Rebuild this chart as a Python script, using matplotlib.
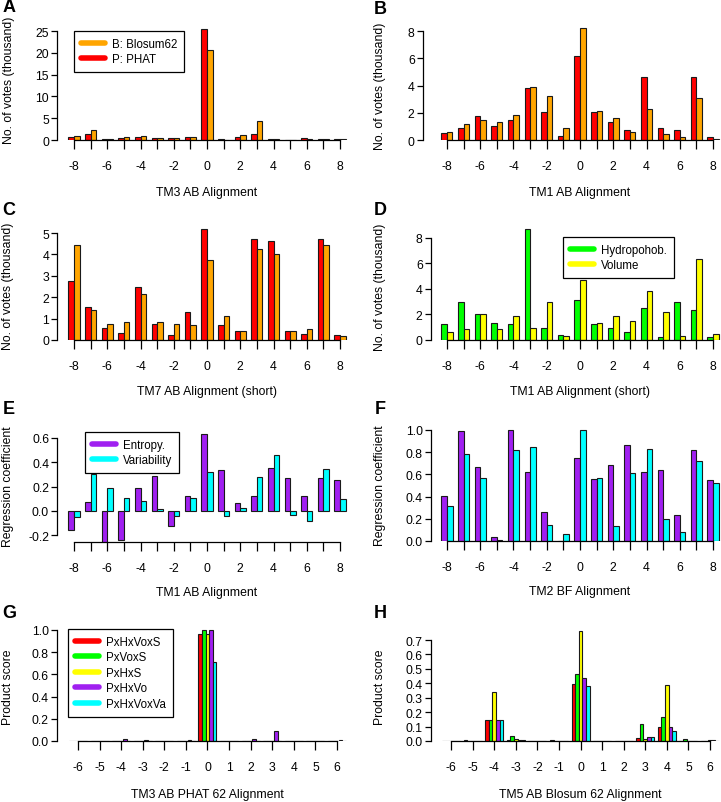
import matplotlib
matplotlib.use('Agg')
import matplotlib.pyplot as plt
from matplotlib.lines import Line2D

plt.rcParams['font.family'] = ['Liberation Sans', 'DejaVu Sans']

W, H = 721, 803

# positions of the alignment shifts
shifts17 = list(range(-8, 9))
shifts13 = list(range(-6, 7))

# A: TM3 AB alignment, votes in thousand
a_phat = [0.7, 1.4, 0.15, 0.4, 0.6, 0.5, 0.4, 0.6, 25.5, 0.15, 0.8, 1.3, 0.2, 0.1, 0.5, 0.25, 0.2]
a_blosum = [0.9, 2.3, 0.15, 0.7, 0.9, 0.4, 0.5, 0.6, 20.7, 0.1, 1.2, 4.3, 0.15, 0.1, 0.3, 0.2, 0.2]

# B: TM1 AB alignment
b_phat = [0.55, 0.85, 1.75, 1.05, 1.5, 3.8, 2.05, 0.3, 6.15, 2.05, 1.3, 0.75, 4.6, 0.85, 0.7, 4.6, 0.2]
b_blosum = [0.6, 1.15, 1.45, 1.3, 1.85, 3.9, 3.25, 0.9, 8.2, 2.1, 1.6, 0.6, 2.3, 0.45, 0.25, 3.05, 0.05]

# C: TM7 AB alignment (short)
c_phat = [2.75, 1.55, 0.55, 0.35, 2.5, 0.75, 0.25, 1.3, 5.2, 0.7, 0.42, 4.72, 4.65, 0.42, 0.27, 4.72, 0.22]
c_blosum = [4.45, 1.4, 0.75, 0.85, 2.15, 0.82, 0.75, 0.72, 3.75, 1.1, 0.4, 4.25, 4.0, 0.43, 0.5, 4.42, 0.17]

# D: TM1 AB alignment (short)
d_hydro = [1.25, 2.95, 2.05, 1.3, 1.22, 8.73, 0.92, 0.4, 3.1, 1.22, 0.92, 0.6, 2.5, 0.25, 2.98, 2.35, 0.27]
d_volume = [0.6, 0.85, 2.0, 0.9, 1.88, 0.95, 3.0, 0.3, 4.7, 1.33, 1.85, 1.5, 3.87, 2.17, 0.3, 6.38, 0.45]

# E: TM1 AB alignment, regression coefficients
e_entropy = [-0.16, 0.07, -0.3, -0.235, 0.19, 0.29, -0.12, 0.12, 0.635, 0.337, 0.063, 0.12, 0.356, 0.271, 0.12, 0.268, 0.258]
e_variab = [-0.05, 0.30, 0.19, 0.11, 0.08, 0.02, -0.045, 0.105, 0.323, -0.038, 0.027, 0.282, 0.46, -0.03, -0.082, 0.342, 0.10]

# F: TM2 BF alignment
f_entropy = [0.405, 0.99, 0.67, 0.036, 1.0, 0.622, 0.264, 0.003, 0.748, 0.562, 0.688, 0.865, 0.619, 0.637, 0.234, 0.82, 0.553]
f_variab = [0.318, 0.784, 0.565, 0.006, 0.817, 0.847, 0.144, 0.066, 1.0, 0.565, 0.135, 0.613, 0.832, 0.2, 0.081, 0.72, 0.525]

# G: TM3 AB PHAT 62 alignment, product scores
g_pxhxvoxs = [0.002, 0.002, 0.003, 0.002, 0.002, 0.003, 0.96, 0.001, 0.002, 0.002, 0.002, 0.001, 0.002]
g_pxvoxs = [0.002, 0.002, 0.003, 0.002, 0.002, 0.003, 1.0, 0.001, 0.002, 0.002, 0.002, 0.001, 0.002]
g_pxhxs = [0.002, 0.002, 0.003, 0.002, 0.002, 0.003, 0.96, 0.001, 0.002, 0.002, 0.002, 0.001, 0.002]
g_pxhxvo = [0.002, 0.002, 0.02, 0.008, 0.003, 0.01, 1.0, 0.002, 0.018, 0.088, 0.003, 0.002, 0.006]
g_pxhxvoxva = [0.002, 0.002, 0.003, 0.002, 0.002, 0.003, 0.71, 0.001, 0.002, 0.002, 0.002, 0.001, 0.003]

# H: TM5 AB Blosum 62 alignment
h_pxhxvoxs = [0.002, 0.004, 0.145, 0.005, 0.002, 0.004, 0.395, 0.002, 0.002, 0.018, 0.098, 0.003, 0.002]
h_pxvoxs = [0.002, 0.003, 0.145, 0.033, 0.002, 0.003, 0.463, 0.002, 0.002, 0.115, 0.163, 0.015, 0.003]
h_pxhxs = [0.002, 0.003, 0.337, 0.012, 0.002, 0.003, 0.763, 0.002, 0.002, 0.012, 0.39, 0.003, 0.005]
h_pxhxvo = [0.002, 0.003, 0.145, 0.006, 0.002, 0.003, 0.435, 0.002, 0.002, 0.028, 0.10, 0.003, 0.004]
h_pxhxvoxva = [0.002, 0.003, 0.145, 0.004, 0.002, 0.002, 0.378, 0.002, 0.002, 0.028, 0.07, 0.003, 0.003]

RED, ORANGE = '#ff0000', '#ffa500'
GREEN, YELLOW = '#00ff00', '#ffff00'
PURPLE, CYAN = '#a020f0', '#00ffff'
FS = 8.8


def make_axes(fig, left, bottom, width, height):
    # rectangle given in pixels, bottom counted from the top of the figure
    return fig.add_axes([left / W, 1 - bottom / H, width / W, height / H])


def draw_bars(ax, pos, series, colors):
    n = len(series)
    w = 1.0 / (n + 1)
    for i, (vals, col) in enumerate(zip(series, colors)):
        xs = [p + (i - (n - 1) / 2) * w for p in pos]
        ax.bar(xs, vals, width=w, color=col, edgecolor='#1a1a1a', linewidth=0.8, zorder=2)


def style_axes(ax, pos, xlim, ylim, yticks, ylabels, label_every=2):
    ax.set_xlim(*xlim)
    ax.set_ylim(*ylim)
    for s in ['top', 'right']:
        ax.spines[s].set_visible(False)
    ax.spines['left'].set_bounds(yticks[0], yticks[-1])
    ax.spines['bottom'].set_bounds(pos[0], pos[-1])
    ax.spines['left'].set_linewidth(0.9)
    ax.spines['bottom'].set_linewidth(0.9)
    ax.set_yticks(yticks)
    ax.set_yticklabels(ylabels, fontsize=FS)
    ax.set_xticks(pos)
    ax.set_xticklabels([str(p) if p % label_every == 0 else '' for p in pos], fontsize=FS)
    ax.tick_params(axis='y', length=4.5, width=0.9, pad=1.5)
    ax.tick_params(axis='x', length=6.5, width=0.9, pad=8)
    ax.patch.set_alpha(0)


def add_legend(fig, ax, labels, colors, x, y):
    handles = [Line2D([0], [0], color=c, lw=4, solid_capstyle='round') for c in colors]
    leg = ax.legend(handles, labels, loc='upper left', bbox_to_anchor=(x / W, 1 - y / H),
                    bbox_transform=fig.transFigure, borderaxespad=0, fontsize=8.3,
                    frameon=True, fancybox=False, edgecolor='black', framealpha=1,
                    handlelength=2.1, handletextpad=0.6, labelspacing=0.3,
                    borderpad=0.6)
    leg.get_frame().set_linewidth(0.9)


fig = plt.figure(figsize=(W / 100, H / 100), dpi=100)

# panel A
ax = make_axes(fig, 57.4, 141, 299.25, 115.5)
draw_bars(ax, shifts17, [a_phat, a_blosum], [RED, ORANGE])
style_axes(ax, shifts17, (-9, 9), (0, 26.5), [0, 5, 10, 15, 20, 25], ['0', '5', '10', '15', '20', '25'])
add_legend(fig, ax, ['B: Blosum62', 'P: PHAT'], [ORANGE, RED], 74, 32)

# panel B
ax = make_axes(fig, 423, 141, 298, 115.8)
draw_bars(ax, shifts17, [b_phat, b_blosum], [RED, ORANGE])
style_axes(ax, shifts17, (-9.44, 8.48), (0, 8.5), [0, 2, 4, 6, 8], ['0', '2', '4', '6', '8'])

# panel C
ax = make_axes(fig, 57.4, 341, 299.25, 113.4)
draw_bars(ax, shifts17, [c_phat, c_blosum], [RED, ORANGE])
style_axes(ax, shifts17, (-9, 9), (0, 5.3), [0, 1, 2, 3, 4, 5], ['0', '1', '2', '3', '4', '5'])

# panel D
ax = make_axes(fig, 431, 341, 290, 113.5)
draw_bars(ax, shifts17, [d_hydro, d_volume], [GREEN, YELLOW])
style_axes(ax, shifts17, (-8.96, 8.48), (0, 8.9), [0, 2, 4, 6, 8], ['0', '2', '4', '6', '8'])
add_legend(fig, ax, ['Hydropohob.', 'Volume'], [GREEN, YELLOW], 563, 238)

# panel E
ax = make_axes(fig, 57.4, 543, 299.25, 112.6)
draw_bars(ax, shifts17, [e_entropy, e_variab], [PURPLE, CYAN])
style_axes(ax, shifts17, (-9, 9), (-0.255, 0.67), [-0.2, 0.0, 0.2, 0.4, 0.6],
           ['-0.2', '0.0', '0.2', '0.4', '0.6'])
add_legend(fig, ax, ['Entropy.', 'Variability'], [PURPLE, CYAN], 85, 433)

# panel F
ax = make_axes(fig, 431, 542, 290, 116.6)
draw_bars(ax, shifts17, [f_entropy, f_variab], [PURPLE, CYAN])
style_axes(ax, shifts17, (-8.96, 8.48), (0, 1.05), [0, 0.2, 0.4, 0.6, 0.8, 1.0],
           ['0.0', '0.2', '0.4', '0.6', '0.8', '1.0'])

# panel G
g_series = [g_pxhxvoxs, g_pxvoxs, g_pxhxs, g_pxhxvo, g_pxhxvoxva]
five_colors = [RED, GREEN, YELLOW, PURPLE, CYAN]
ax = make_axes(fig, 57, 742, 299.4, 116.6)
draw_bars(ax, shifts13, g_series, five_colors)
style_axes(ax, shifts13, (-6.97, 6.9), (0, 1.05), [0, 0.2, 0.4, 0.6, 0.8, 1.0],
           ['0.0', '0.2', '0.4', '0.6', '0.8', '1.0'], label_every=1)
add_legend(fig, ax, ['PxHxVoxS', 'PxVoxS', 'PxHxS', 'PxHxVo', 'PxHxVoxVa'], five_colors, 68, 630)

# panel H
h_series = [h_pxhxvoxs, h_pxvoxs, h_pxhxs, h_pxhxvo, h_pxhxvoxva]
ax = make_axes(fig, 431, 742, 290, 112.5)
draw_bars(ax, shifts13, h_series, five_colors)
style_axes(ax, shifts13, (-6.93, 6.51), (0, 0.78), [0, 0.1, 0.2, 0.3, 0.4, 0.5, 0.6, 0.7],
           ['0.0', '0.1', '0.2', '0.3', '0.4', '0.5', '0.6', '0.7'], label_every=1)

# axis titles and panel letters, in pixel positions
xlabels = [('TM3 AB Alignment', 207, 193), ('TM1 AB Alignment', 580, 193),
           ('TM7 AB Alignment (short)', 207, 392), ('TM1 AB Alignment (short)', 580, 392),
           ('TM1 AB Alignment', 207, 593), ('TM2 BF Alignment', 580, 592),
           ('TM3 AB PHAT 62 Alignment', 207, 795), ('TM5 AB Blosum 62 Alignment', 580, 795)]
for txt, x, y in xlabels:
    fig.text(x / W, 1 - y / H, txt, ha='center', va='center', fontsize=FS)

ylabels = [('No. of votes (thousand)', 9, 80), ('No. of votes (thousand)', 380, 86),
           ('No. of votes (thousand)', 8, 286), ('No. of votes (thousand)', 380, 287),
           ('Regression coefficient', 8, 487), ('Regression coefficient', 380, 486),
           ('Product score', 8, 687), ('Product score', 380, 687)]
for txt, x, y in ylabels:
    fig.text(x / W, 1 - y / H, txt, ha='center', va='center', rotation=90, fontsize=FS)

letters = [('A', 9, 8), ('B', 380, 9), ('C', 9, 211), ('D', 380, 211),
           ('E', 9, 409), ('F', 380, 409), ('G', 9, 613), ('H', 380, 613)]
for txt, x, y in letters:
    fig.text(x / W, 1 - y / H, txt, ha='center', va='center', fontsize=13, fontweight='bold')

fig.savefig('out.png', dpi=100)
